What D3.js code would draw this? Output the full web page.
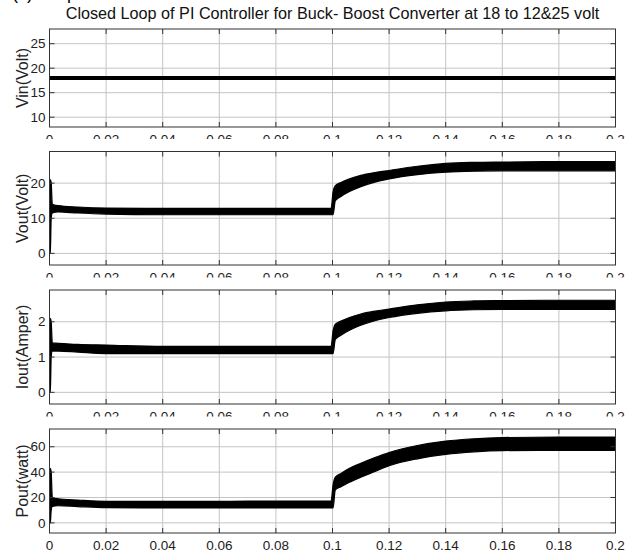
<!DOCTYPE html>
<html lang="en">

<head>
  <meta charset="UTF-8">
  <title>Closed Loop PI Buck-Boost</title>
  <script src="https://cdn.jsdelivr.net/npm/d3@7"></script>
  <style>
    body {
      margin: 0;
      background: #fff;
    }

    svg {
      display: block;
      font-family: "Liberation Sans", Arial, Helvetica, sans-serif;
    }
  </style>
</head>

<body>
  <svg id="chart" width="633" height="557"></svg>
  <script>
    // sample times (s) and envelopes
    const time = [0, 0.0003, 0.0006, 0.001, 0.003, 0.01, 0.02, 0.04, 0.06, 0.08, 0.0995, 0.1002, 0.101, 0.103,
      0.106, 0.11, 0.115, 0.12, 0.13, 0.14, 0.15, 0.16, 0.18, 0.2];

    const vinTime = [0, 0.2];
    const vinValues = [18, 18];

    const voutLow = [0, 0, 10, 11.5, 11.8, 11.5, 11.2, 11.0, 11.0, 11.0, 11.0, 11.0, 15.0, 16.2,
      17.6, 19.0, 20.3, 21.2, 22.4, 23.1, 23.4, 23.5, 23.5, 23.5];
    const voutHigh = [0.5, 21, 20, 14, 13.6, 13.2, 12.9, 12.8, 12.8, 12.8, 12.8, 17.5, 19.3, 20.2,
      21.2, 22.2, 23.0, 23.6, 24.8, 25.6, 25.9, 26.0, 26.1, 26.1];

    const ioutLow = [0, 0, 1.0, 1.17, 1.17, 1.14, 1.1, 1.1, 1.1, 1.1, 1.1, 1.1, 1.5, 1.62,
      1.76, 1.9, 2.03, 2.12, 2.24, 2.31, 2.34, 2.35, 2.35, 2.35];
    const ioutHigh = [0.05, 2.1, 2.0, 1.4, 1.39, 1.36, 1.34, 1.3, 1.3, 1.3, 1.3, 1.75, 1.93, 2.02,
      2.12, 2.22, 2.3, 2.36, 2.48, 2.56, 2.59, 2.6, 2.61, 2.61];

    const poutLow = [0, 0, 10, 13, 13.5, 12.8, 12, 11.8, 11.8, 11.8, 11.8, 11.8, 26, 28.5,
      32, 36, 40.5, 45, 50.5, 54, 56, 57, 57.2, 57.2];
    const poutHigh = [1, 43, 40, 20, 19, 18, 17, 17, 17, 17.2, 17.2, 30, 36, 39,
      43, 47, 51.5, 55.5, 61, 64.5, 66.3, 67.2, 67.7, 67.7];

    const xTicks = [0, 0.02, 0.04, 0.06, 0.08, 0.1, 0.12, 0.14, 0.16, 0.18, 0.2];
    const xTickLabels = ['0', '0.02', '0.04', '0.06', '0.08', '0.1', '0.12', '0.14', '0.16', '0.18', '0.2'];
    const vinTicks = [10, 15, 20, 25];
    const voutTicks = [0, 10, 20];
    const ioutTicks = [0, 1, 2];
    const poutTicks = [0, 20, 40, 60];

    const titleText = 'Closed Loop of PI Controller for Buck- Boost Converter at 18 to 12&25 volt';

    const svg = d3.select('#chart');
    const left = 49.5, right = 615.5;

    const x = d3.scaleLinear().domain([0, 0.2]).range([left, right]);

    const panels = [
      { label: 'Vin(Volt)', top: 29, bottom: 127, domain: [8, 28], ticks: vinTicks, line: vinValues },
      { label: 'Vout(Volt)', top: 151.5, bottom: 265, domain: [-3.3, 29], ticks: voutTicks, low: voutLow, high: voutHigh },
      { label: 'Iout(Amper)', top: 290, bottom: 404, domain: [-0.33, 2.9], ticks: ioutTicks, low: ioutLow, high: ioutHigh },
      { label: 'Pout(watt)', top: 429, bottom: 533, domain: [-8, 74], ticks: poutTicks, low: poutLow, high: poutHigh }
    ];

    // caption of the figure, mostly above the top edge as in the source
    svg.append('text')
      .attr('x', 12)
      .attr('y', -1)
      .attr('font-size', 18)
      .text('(c) Output');

    svg.append('text')
      .attr('x', (left + right) / 2)
      .attr('y', 19)
      .attr('text-anchor', 'middle')
      .attr('font-size', 16.2)
      .attr('fill', '#111')
      .text(titleText);

    panels.forEach((p, i) => {
      const y = d3.scaleLinear().domain(p.domain).range([p.bottom, p.top]);
      const g = svg.append('g');

      // white backing covers the bottom of the previous panel's tick labels
      g.append('rect')
        .attr('x', 0)
        .attr('y', i === 0 ? p.top : p.top - 12.5)
        .attr('width', 633)
        .attr('height', p.bottom - p.top + (i === 0 ? 0 : 12.5))
        .attr('fill', '#fff');

      const clipId = 'clip' + i;
      g.append('clipPath').attr('id', clipId)
        .append('rect')
        .attr('x', left).attr('y', p.top)
        .attr('width', right - left).attr('height', p.bottom - p.top);

      // grid
      g.append('g').selectAll('line.gx')
        .data(xTicks)
        .join('line')
        .attr('x1', d => x(d)).attr('x2', d => x(d))
        .attr('y1', p.top).attr('y2', p.bottom)
        .attr('stroke', '#c4c4c4').attr('stroke-width', 1);
      g.append('g').selectAll('line.gy')
        .data(p.ticks)
        .join('line')
        .attr('x1', left).attr('x2', right)
        .attr('y1', d => y(d)).attr('y2', d => y(d))
        .attr('stroke', '#c4c4c4').attr('stroke-width', 1);

      const plot = g.append('g').attr('clip-path', `url(#${clipId})`);

      if (p.line) {
        plot.append('path')
          .datum(vinTime.map((t, k) => [t, p.line[k]]))
          .attr('fill', 'none')
          .attr('stroke', '#000')
          .attr('stroke-width', 4.2)
          .attr('d', d3.line().x(d => x(d[0])).y(d => y(d[1])));
      } else {
        const area = d3.area()
          .x((d, k) => x(time[k]))
          .y0(d => y(d[0]))
          .y1(d => y(d[1]))
          .curve(d3.curveMonotoneX);
        plot.append('path')
          .datum(time.map((t, k) => [p.low[k], p.high[k]]))
          .attr('fill', '#000')
          .attr('stroke', '#000')
          .attr('stroke-width', 1.2)
          .attr('d', area);
      }

      // box
      g.append('rect')
        .attr('x', left).attr('y', p.top)
        .attr('width', right - left).attr('height', p.bottom - p.top)
        .attr('fill', 'none').attr('stroke', '#333').attr('stroke-width', 1);

      // inward tick marks
      const tl = 5;
      xTicks.forEach(t => {
        g.append('line').attr('x1', x(t)).attr('x2', x(t)).attr('y1', p.bottom).attr('y2', p.bottom - tl).attr('stroke', '#333');
        g.append('line').attr('x1', x(t)).attr('x2', x(t)).attr('y1', p.top).attr('y2', p.top + tl).attr('stroke', '#333');
      });
      p.ticks.forEach(t => {
        g.append('line').attr('x1', left).attr('x2', left + tl).attr('y1', y(t)).attr('y2', y(t)).attr('stroke', '#333');
        g.append('line').attr('x1', right).attr('x2', right - tl).attr('y1', y(t)).attr('y2', y(t)).attr('stroke', '#333');
      });

      g.append('g').selectAll('text')
        .data(p.ticks)
        .join('text')
        .attr('x', left - 4)
        .attr('y', d => y(d))
        .attr('dy', '0.35em')
        .attr('text-anchor', 'end')
        .attr('font-size', 13.5)
        .attr('fill', '#222')
        .text(d => d);

      g.append('g').selectAll('text')
        .data(xTicks)
        .join('text')
        .attr('x', d => x(d))
        .attr('y', p.bottom + 17)
        .attr('text-anchor', 'middle')
        .attr('font-size', 13.5)
        .attr('fill', '#222')
        .text((d, k) => xTickLabels[k]);

      g.append('text')
        .attr('transform', `translate(28,${(p.top + p.bottom) / 2}) rotate(-90)`)
        .attr('text-anchor', 'middle')
        .attr('font-size', 16)
        .attr('fill', '#222')
        .text(p.label);
    });
  </script>
</body>

</html>
